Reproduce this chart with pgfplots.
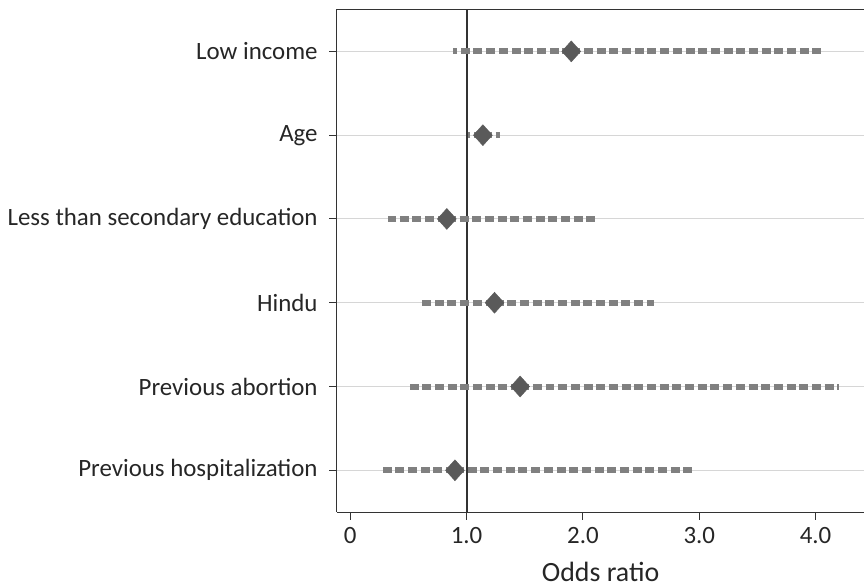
\documentclass[border=0pt]{standalone}
\usepackage{pgfplots}
\pgfplotsset{compat=1.18}
\usepackage{pgfplotstable}
\usepackage{fontspec}
\setmainfont{Carlito}

\definecolor{barGray}{HTML}{808080}
\definecolor{dotGray}{HTML}{5A5A5A}
\definecolor{gridGray}{HTML}{D6D6D6}
\definecolor{axGray}{HTML}{333333}

% row: 6 = top
\pgfplotstableread{
row lo   est  hi
6   0.88 1.90 4.08
5   1.01 1.14 1.29
4   0.32 0.83 2.12
3   0.60 1.24 2.61
2   0.50 1.46 4.20
1   0.27 0.90 2.97
}\ordata

\begin{document}
\begin{tikzpicture}
\begin{axis}[
  scale only axis,
  width=528bp, height=503bp,
  xmin=-0.116, xmax=4.42,
  ymin=0.5, ymax=6.5,
  axis x line*=box,
  axis y line*=left,
  axis line style={axGray, line width=1.1bp},
  tick align=outside,
  tick pos=lower,
  major tick length=7.5bp,
  tick style={axGray, line width=1.1bp},
  xtick={0,1,2,3,4},
  xticklabels={0,1.0,2.0,3.0,4.0},
  ytick={1,2,3,4,5,6},
  yticklabels={Previous hospitalization,Previous abortion,Hindu,Less than secondary education,Age,Low income},
  ymajorgrids,
  grid style={gridGray, line width=1bp},
  ticklabel style={font=\fontsize{25}{30}\selectfont, text=black!85},
  /pgf/number format/assume math mode=true,
  xticklabel style={yshift=-4bp},
  yticklabel style={inner xsep=0pt, xshift=-11.5bp},
  xlabel={Odds ratio},
  xlabel style={font=\fontsize{28}{33}\selectfont, text=black!85, inner sep=0pt, yshift=-15bp},
  clip=false,
]
\addplot[axGray, line width=1.8bp] coordinates {(1,0.5) (1,6.5)};
\addplot[
  only marks,
  mark=diamond*,
  mark size=10.5bp,
  mark options={fill=dotGray, draw=dotGray, xscale=1.2},
  error bars/.cd,
    x dir=both, x explicit,
    error mark=none,
    error bar style={barGray, line width=6bp, dash pattern=on 9bp off 3.7bp},
] table[
  x=est, y=row,
  x error plus expr=\thisrow{hi}-\thisrow{est},
  x error minus expr=\thisrow{est}-\thisrow{lo},
] {\ordata};
\end{axis}
\path (current axis.north east) ++(0pt,9.5bp);
\path (current axis.south west) ++(-337bp,-75bp);
\end{tikzpicture}
\end{document}
